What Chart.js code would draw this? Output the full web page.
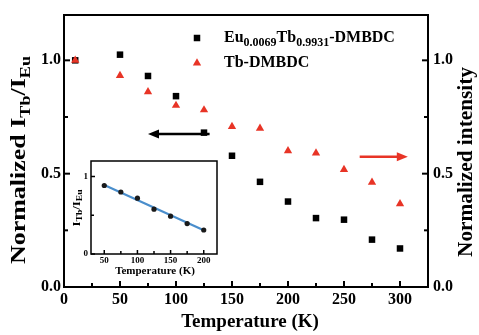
<!DOCTYPE html>
<html>
<head>
<meta charset="utf-8">
<script src="https://cdn.jsdelivr.net/npm/chart.js@4/dist/chart.umd.min.js"></script>
<style>
  html, body { margin: 0; padding: 0; background: #fff; }
  #wrap { position: relative; width: 479px; height: 335px; }
  #wrap canvas { position: absolute; left: 0; top: 0; }
</style>
</head>
<body>
<div id="wrap">
  <canvas id="mainChart" width="479" height="335"></canvas>
  <canvas id="insetChart" width="479" height="335"></canvas>
</div>
<script>
// main data
const temps = [10, 50, 75, 100, 125, 150, 175, 200, 225, 250, 275, 300];
const ratioEuTb = [1.0, 1.025, 0.931, 0.842, 0.681, 0.579, 0.464, 0.377, 0.304, 0.297, 0.209, 0.170];
const intensityTb = [1.0, 0.933, 0.861, 0.801, 0.781, 0.708, 0.700, 0.601, 0.591, 0.518, 0.462, 0.367];
const xTicks = [0, 25, 50, 75, 100, 125, 150, 175, 200, 225, 250, 275, 300];
const xLabels = [0, 50, 100, 150, 200, 250, 300];
const yTicks = [0, 0.25, 0.5, 0.75, 1.0];
const yLabels = [0, 0.5, 1.0];

// inset data
const insetTemps = [50, 75, 100, 125, 150, 175, 200];
const insetRatio = [0.884, 0.80, 0.72, 0.578, 0.488, 0.392, 0.31];
const fitTemps = [50, 200];
const fitRatio = [0.89, 0.305];
const insetXTicks = [50, 75, 100, 125, 150, 175, 200];
const insetXLabels = [50, 100, 150, 200];
const insetYTicks = [0, 0.5, 1];
const insetYLabels = [0, 1];

// arrows (data units) pointing to the axis each series belongs to
const arrows = [
  { from: [130, 0.675], to: [75, 0.675], axis: 'y', color: '#000' },
  { from: [264, 0.575], to: [307, 0.575], axis: 'y2', color: 'rgb(232,52,38)' }
];

const SERIF = '"Liberation Serif", "Times New Roman", serif';
const RED = 'rgb(232,52,38)';

function rich(ctx, parts, x, y, size, subSize, draw) {
  let cx = x;
  parts.forEach(([t, sub]) => {
    ctx.font = 'bold ' + (sub ? subSize : size) + 'px ' + SERIF;
    if (draw) ctx.fillText(t, cx, sub ? y + size * 0.32 : y);
    cx += ctx.measureText(t).width;
  });
  return cx - x;
}

function titleAt(ctx, parts, cx, cy, size, subSize, rot, len) {
  ctx.save();
  ctx.fillStyle = '#000';
  ctx.textBaseline = 'middle';
  ctx.textAlign = 'left';
  const w = rich(ctx, parts, 0, 0, size, subSize, false);
  ctx.translate(cx, cy);
  if (rot) ctx.rotate(rot);
  const k = len ? len / w : 1;
  ctx.scale(k, 1);
  rich(ctx, parts, -w / 2, 0, size, subSize, true);
  ctx.restore();
}

const frameTicks = {
  id: 'frameTicks',
  afterDatasetsDraw(chart, args, opts) {
    const { ctx, chartArea: a } = chart;
    ctx.save();
    ctx.strokeStyle = '#000';
    ctx.lineWidth = opts.width;
    ctx.strokeRect(a.left, a.top, a.right - a.left, a.bottom - a.top);
    Object.values(chart.scales).forEach(s => {
      s.ticks.forEach(t => {
        const len = t.big ? opts.major : opts.minor;
        const p = s.getPixelForValue(t.value);
        ctx.beginPath();
        if (s.axis === 'x') { ctx.moveTo(p, a.bottom); ctx.lineTo(p, a.bottom - len); }
        else if (s.position === 'left') { ctx.moveTo(a.left, p); ctx.lineTo(a.left + len, p); }
        else { ctx.moveTo(a.right, p); ctx.lineTo(a.right - len, p); }
        ctx.stroke();
      });
    });
    ctx.restore();
  }
};

const mainDecor = {
  id: 'mainDecor',
  afterDraw(chart) {
    const ctx = chart.ctx;
    const sx = chart.scales.x;
    // arrows
    arrows.forEach(ar => {
      const sy = chart.scales[ar.axis];
      const x1 = sx.getPixelForValue(ar.from[0]), y1 = sy.getPixelForValue(ar.from[1]);
      const x2 = sx.getPixelForValue(ar.to[0]), y2 = sy.getPixelForValue(ar.to[1]);
      const dir = Math.sign(x2 - x1);
      ctx.save();
      ctx.strokeStyle = ar.color;
      ctx.fillStyle = ar.color;
      ctx.lineWidth = 2.5;
      ctx.beginPath();
      ctx.moveTo(x1, y1);
      ctx.lineTo(x2 - dir * 8, y2);
      ctx.stroke();
      ctx.beginPath();
      ctx.moveTo(x2, y2);
      ctx.lineTo(x2 - dir * 11, y2 - 4.5);
      ctx.lineTo(x2 - dir * 11, y2 + 4.5);
      ctx.closePath();
      ctx.fill();
      ctx.restore();
    });
    // legend
    const ds = chart.data.datasets;
    const rows = [
      { d: ds[1], y: 38, parts: [['Eu'], ['0.0069', 1], ['Tb'], ['0.9931', 1], ['-DMBDC']] },
      { d: ds[0], y: 63, parts: [['Tb-DMBDC']] }
    ];
    rows.forEach(r => {
      ctx.save();
      ctx.fillStyle = r.d.backgroundColor;
      ctx.strokeStyle = r.d.backgroundColor;
      Chart.helpers.drawPoint(ctx, { pointStyle: r.d.pointStyle, radius: r.d.pointRadius, borderWidth: 0 }, 197, r.y);
      ctx.fillStyle = '#000';
      ctx.textBaseline = 'middle';
      rich(ctx, r.parts, 224, r.y, 16, 12, true);
      ctx.restore();
    });
    // axis titles
    titleAt(ctx, [['Temperature (K)']], 250, 322, 19, 13, 0, 0);
    titleAt(ctx, [['Normalized I'], ['Tb', 1], ['/I'], ['Eu', 1]], 20, 160, 20, 14, -Math.PI / 2, 208);
    titleAt(ctx, [['Normalized intensity']], 467, 162, 20, 14, -Math.PI / 2, 190);
  }
};

const tickFont = size => ({ family: SERIF, size: size, weight: 'bold' });
const noGrid = { display: false, drawTicks: false };

new Chart(document.getElementById('mainChart'), {
  type: 'scatter',
  data: {
    datasets: [
      {
        label: 'Tb-DMBDC',
        data: temps.map((t, i) => ({ x: t, y: intensityTb[i] })),
        yAxisID: 'y2',
        pointStyle: 'triangle',
        pointRadius: 4.8,
        backgroundColor: RED,
        borderColor: RED,
        borderWidth: 0,
        order: 0
      },
      {
        label: 'Eu0.0069Tb0.9931-DMBDC',
        data: temps.map((t, i) => ({ x: t, y: ratioEuTb[i] })),
        yAxisID: 'y',
        pointStyle: 'rect',
        pointRadius: 4.6,
        backgroundColor: '#000',
        borderColor: '#000',
        borderWidth: 0,
        order: 1
      }
    ]
  },
  options: {
    responsive: false,
    animation: false,
    layout: { padding: { top: 15, left: 0, right: 0, bottom: 0 } },
    plugins: {
      legend: { display: false },
      tooltip: { enabled: false },
      frameTicks: { width: 2, major: 6, minor: 4 }
    },
    scales: {
      x: {
        type: 'linear', min: 0, max: 325,
        afterFit: s => { s.height = 48; },
        afterBuildTicks: s => { s.ticks = xTicks.map(v => ({ value: v, big: xLabels.includes(v) })); },
        grid: noGrid, border: { display: false },
        ticks: {
          autoSkip: false, maxRotation: 0, padding: 3, color: '#000', font: tickFont(16),
          callback: v => xLabels.includes(v) ? String(v) : ''
        }
      },
      y: {
        position: 'left', min: 0, max: 1.2,
        afterFit: s => { s.width = 64; },
        afterBuildTicks: s => { s.ticks = yTicks.map(v => ({ value: v, big: yLabels.includes(v) })); },
        grid: noGrid, border: { display: false },
        ticks: {
          autoSkip: false, padding: 3, color: '#000', font: tickFont(16),
          callback: v => yLabels.includes(v) ? v.toFixed(1) : ''
        }
      },
      y2: {
        position: 'right', min: 0, max: 1.2,
        afterFit: s => { s.width = 51; },
        afterBuildTicks: s => { s.ticks = yTicks.map(v => ({ value: v, big: yLabels.includes(v) })); },
        grid: noGrid, border: { display: false },
        ticks: {
          autoSkip: false, padding: 5, color: '#000', font: tickFont(16),
          callback: v => yLabels.includes(v) ? v.toFixed(1) : ''
        }
      }
    }
  },
  plugins: [frameTicks, mainDecor]
});

const insetDecor = {
  id: 'insetDecor',
  beforeDatasetsDraw(chart) {
    const { ctx, chartArea: a } = chart;
    ctx.save();
    ctx.fillStyle = '#fff';
    ctx.fillRect(a.left, a.top, a.right - a.left, a.bottom - a.top);
    ctx.restore();
  },
  afterDraw(chart) {
    const ctx = chart.ctx;
    titleAt(ctx, [['Temperature (K)']], 155, 271, 11, 8, 0, 0);
    titleAt(ctx, [['I'], ['Tb', 1], ['/I'], ['Eu', 1]], 77, 208, 10, 7.5, -Math.PI / 2, 37);
  }
};

new Chart(document.getElementById('insetChart'), {
  type: 'scatter',
  data: {
    datasets: [
      {
        data: insetTemps.map((t, i) => ({ x: t, y: insetRatio[i] })),
        pointStyle: 'circle',
        pointRadius: 2.6,
        backgroundColor: '#1a1a1a',
        borderWidth: 0,
        order: 0
      },
      {
        data: fitTemps.map((t, i) => ({ x: t, y: fitRatio[i] })),
        showLine: true,
        pointRadius: 0,
        borderColor: 'rgb(74,142,204)',
        borderWidth: 2.2,
        order: 1
      }
    ]
  },
  options: {
    responsive: false,
    animation: false,
    layout: { padding: { left: 91 - 14, top: 161, right: 479 - 217, bottom: 335 - 254 - 13 } },
    plugins: {
      legend: { display: false },
      tooltip: { enabled: false },
      frameTicks: { width: 1.5, major: 4, minor: 3 }
    },
    scales: {
      x: {
        type: 'linear', min: 30, max: 220,
        afterFit: s => { s.height = 13; },
        afterBuildTicks: s => { s.ticks = insetXTicks.map(v => ({ value: v, big: insetXLabels.includes(v) })); },
        grid: noGrid, border: { display: false },
        ticks: {
          autoSkip: false, maxRotation: 0, padding: 1, color: '#000', font: tickFont(9),
          callback: v => insetXLabels.includes(v) ? String(v) : ''
        }
      },
      y: {
        min: 0, max: 1.2,
        afterFit: s => { s.width = 14; },
        afterBuildTicks: s => { s.ticks = insetYTicks.map(v => ({ value: v, big: insetYLabels.includes(v) })); },
        grid: noGrid, border: { display: false },
        ticks: {
          autoSkip: false, padding: 3, color: '#000', font: tickFont(9),
          callback: v => insetYLabels.includes(v) ? String(v) : ''
        }
      }
    }
  },
  plugins: [frameTicks, insetDecor]
});
</script>
</body>
</html>
